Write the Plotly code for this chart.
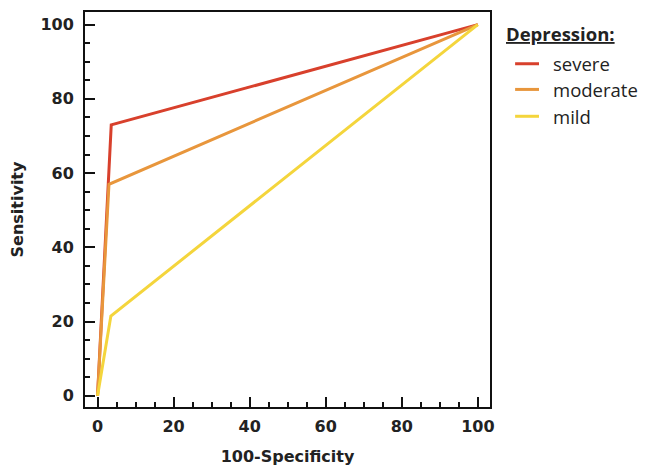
import plotly.graph_objects as go

series_names = ["severe", "moderate", "mild"]
fpr_values = {
    "severe": [0, 3.6, 100],
    "moderate": [0, 3.0, 100],
    "mild": [0, 3.5, 100],
}
tpr_values = {
    "severe": [0, 73, 100],
    "moderate": [0, 57, 100],
    "mild": [0, 21.5, 100],
}
colors = {"severe": "#d8402c", "moderate": "#e8963c", "mild": "#f4d53c"}
tick_vals = [0, 20, 40, 60, 80, 100]
legend_title = "Depression:"

fig = go.Figure()
for name in series_names:
    fig.add_trace(go.Scatter(
        x=fpr_values[name], y=tpr_values[name], mode="lines", name=name,
        line=dict(color=colors[name], width=3), showlegend=False,
    ))

tick_font = dict(family="DejaVu Sans", size=16, color="#222", weight="bold")
axis_common = dict(
    showgrid=False, zeroline=False, showline=True, linecolor="#111", linewidth=2,
    mirror=True, ticks="inside", ticklen=10, tickwidth=2, tickcolor="#111",
    tickvals=tick_vals, tickfont=tick_font,
    minor=dict(ticks="inside", ticklen=5, tickwidth=1.5, tickcolor="#111", dtick=5),
)
fig.update_xaxes(**axis_common, range=[-3.3, 103.2], ticklabelstandoff=4,
                 title=dict(text="<b>100-Specificity</b>", standoff=16,
                            font=dict(family="DejaVu Sans", size=16, color="#222")))
fig.update_yaxes(**axis_common, range=[-3.0, 103.4], ticklabelstandoff=6,
                 title=dict(text="<b>Sensitivity</b>", standoff=16,
                            font=dict(family="DejaVu Sans", size=16, color="#222")))

# manual legend (paper coordinates relative to plot area)
annotations = [dict(
    xref="paper", yref="paper", x=1.034, y=0.945, xanchor="left", yanchor="middle",
    text="<b><u>" + legend_title + "</u></b>", showarrow=False,
    font=dict(family="Open Sans", size=18.5, color="#222"),
)]
shapes = []
row_y = [0.869, 0.804, 0.736]
for name, yy in zip(series_names, row_y):
    shapes.append(dict(type="line", xref="paper", yref="paper",
                       x0=1.062, x1=1.121, y0=yy, y1=yy,
                       line=dict(color=colors[name], width=3)))
    annotations.append(dict(
        xref="paper", yref="paper", x=1.150, y=yy, xanchor="left", yanchor="middle",
        text=name, showarrow=False,
        font=dict(family="Open Sans", size=18.5, color="#222"),
    ))

fig.update_layout(
    width=638, height=465,
    margin=dict(l=77, r=156, t=2, b=66),
    paper_bgcolor="white", plot_bgcolor="white",
    font=dict(family="Open Sans", color="#222"),
    annotations=annotations, shapes=shapes,
)
fig.write_html("out.html")
